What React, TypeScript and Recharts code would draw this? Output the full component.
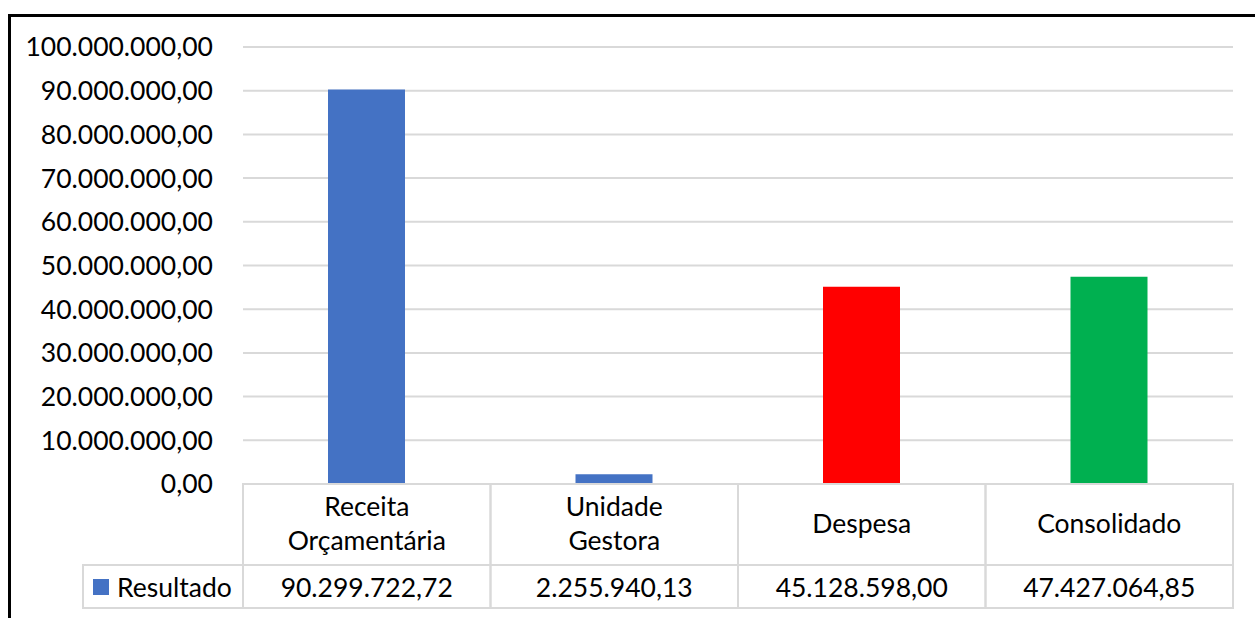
import { BarChart, Bar, XAxis, YAxis, CartesianGrid, Cell } from "recharts"

const categories = [["Receita", "Orçamentária"], ["Unidade", "Gestora"], ["Despesa"], ["Consolidado"]]
const resultado = [90299722.72, 2255940.13, 45128598.0, 47427064.85]
const barColors = ["#4472C4", "#4472C4", "#FF0000", "#00B050"]
const yTicks = [0, 10000000, 20000000, 30000000, 40000000, 50000000, 60000000, 70000000, 80000000, 90000000, 100000000]
const seriesName = "Resultado"

const data = categories.map((c, i) => ({ name: c.join(" "), value: resultado[i] }))

const W = 1255
const H = 618
const PLOT_LEFT = 243
const PLOT_RIGHT = 1233
const PLOT_TOP = 47
const PLOT_BOTTOM = 484
const CELL_W = (PLOT_RIGHT - PLOT_LEFT) / categories.length
const HEAD_H = 81
const ROW_H = 43
const FONT = "Lato, 'Open Sans', sans-serif"
const FS = 26.5
const GRID = "#D9D9D9"

// pt-BR style: 90.299.722,72
const fmt = (v: number) => {
  const [int, dec] = v.toFixed(2).split(".")
  return int.replace(/\B(?=(\d{3})+(?!\d))/g, ".") + "," + dec
}

const TableTick = (props: any) => {
  const { x, y, index } = props
  const left = x - CELL_W / 2
  const lines = categories[index] || []
  const headMid = y + HEAD_H / 2 - 1.5
  return (
    <g>
      <rect x={left} y={y} width={CELL_W} height={HEAD_H} fill="none" stroke={GRID} strokeWidth={2} />
      <rect x={left} y={y + HEAD_H} width={CELL_W} height={ROW_H} fill="none" stroke={GRID} strokeWidth={2} />
      {lines.map((l: string, i: number) => (
        <text
          key={i}
          x={x}
          y={headMid + (i - (lines.length - 1) / 2) * 34}
          textAnchor="middle"
          dominantBaseline="central"
          fontSize={FS}
          fontFamily={FONT}
          fill="#000"
        >
          {l}
        </text>
      ))}
      <text x={x} y={y + HEAD_H + ROW_H / 2} textAnchor="middle" dominantBaseline="central" fontSize={FS} fontFamily={FONT} fill="#000">
        {fmt(resultado[index])}
      </text>
      {index === 0 && (
        <g>
          <rect x={83} y={y + HEAD_H} width={left - 83} height={ROW_H} fill="none" stroke={GRID} strokeWidth={2} />
          <rect x={93} y={y + HEAD_H + 14} width={16} height={16} fill={barColors[0]} />
          <text x={117} y={y + HEAD_H + ROW_H / 2} dominantBaseline="central" fontSize={FS} fontFamily={FONT} fill="#000">
            {seriesName}
          </text>
        </g>
      )}
    </g>
  )
}

export default function App() {
  return (
    <div style={{ position: "absolute", left: 0, top: 0, width: W, height: H, background: "#fff" }}>
      <div
        style={{
          position: "absolute",
          left: 8,
          top: 14,
          width: W,
          height: H,
          borderTop: "3px solid #000",
          borderLeft: "3px solid #000",
        }}
      />
      <BarChart
        width={W}
        height={H}
        data={data}
        margin={{ top: PLOT_TOP, right: W - PLOT_RIGHT, left: 0, bottom: 0 }}
        style={{ position: "absolute", left: 0, top: 0 }}
      >
        <CartesianGrid vertical={false} stroke={GRID} strokeWidth={2} />
        <YAxis
          width={PLOT_LEFT}
          domain={[0, 100000000]}
          ticks={yTicks}
          tickFormatter={fmt}
          axisLine={false}
          tickLine={false}
          tickSize={0}
          tickMargin={30}
          interval={0}
          tick={{ fontSize: FS, fontFamily: FONT, fill: "#000" }}
        />
        <XAxis
          dataKey="name"
          height={H - PLOT_BOTTOM}
          axisLine={false}
          tickLine={false}
          tickSize={0}
          tickMargin={0}
          interval={0}
          tick={<TableTick />}
        />
        <Bar dataKey="value" barSize={77} isAnimationActive={false}>
          {data.map((_, i) => (
            <Cell key={`cell-${i}`} fill={barColors[i]} />
          ))}
        </Bar>
      </BarChart>
    </div>
  )
}
